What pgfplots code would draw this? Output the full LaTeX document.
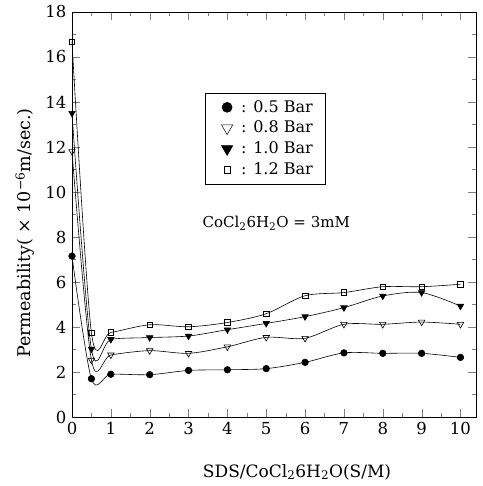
\documentclass[border=0pt]{standalone}
\usepackage{fontspec}
\setmainfont{DejaVu Serif}
\usepackage{pgfplots}
\pgfplotsset{compat=1.18}
\begin{document}
\fontsize{16}{19}\selectfont
\begin{tikzpicture}
\begin{axis}[
 scale only axis, width=404pt, height=405pt,
 xmin=0, xmax=10.4, ymin=0, ymax=18,
 xtick={0,...,10}, ytick={0,2,...,18},
 minor x tick num=1, minor y tick num=1,
 tick align=inside, major tick length=8pt, minor tick length=4pt,
 /pgf/number format/assume math mode=true,
 tick label style={font=\fontsize{16.5}{19}\selectfont},
 label style={font=\fontsize{17}{20}\selectfont},
 xlabel={SDS/CoCl\textsubscript{2}6H\textsubscript{2}O(S/M)},
 ylabel={Permeability( × 10\textsuperscript{−6}m/sec.)},
 xlabel style={at={(axis description cs:0.557,-0.136)},anchor=center},
 ylabel style={at={(axis description cs:-0.116,0.454)},anchor=center, font=\fontsize{17.5}{20}\selectfont},
 legend style={at={(0.329,0.80)}, anchor=north west, draw=black, font=\fontsize{16}{19}\selectfont, inner xsep=10pt, inner ysep=5pt, row sep=2.5pt},
 legend cell align=left,
 legend image code/.code={\path[draw=none,fill=none] (0pt,0pt) -- (24pt,0pt); \draw[#1, only marks] plot coordinates {(12pt,0pt)};},
 clip=false,
 every axis plot/.append style={black, line width=0.6pt, smooth, tension=0.5},
]
\addplot[forget plot, mark=*, mark size=3.3pt, mark options={solid}] coordinates {(0,7.15)(0.5,1.70)(1,1.90)(2,1.88)(3,2.07)(4,2.1)(5,2.15)(6,2.43)(7,2.85)(8,2.83)(9,2.83)(10,2.65)};
\addplot[forget plot, mark=triangle, mark size=3.7pt, mark options={solid, rotate=180, fill=white}] coordinates {(0,11.8)(0.5,2.53)(1,2.76)(2,2.95)(3,2.83)(4,3.12)(5,3.54)(6,3.5)(7,4.12)(8,4.12)(9,4.22)(10,4.12)};
\addplot[forget plot, mark=triangle*, mark size=3.7pt, mark options={solid, rotate=180}] coordinates {(0,13.5)(0.5,3.02)(1,3.45)(2,3.53)(3,3.6)(4,3.88)(5,4.16)(6,4.46)(7,4.86)(8,5.38)(9,5.53)(10,4.93)};
\addplot[forget plot, mark=square, mark size=2.8pt, mark options={solid, fill=white}] coordinates {(0,16.68)(0.5,3.75)(1,3.76)(2,4.1)(3,4.01)(4,4.2)(5,4.59)(6,5.39)(7,5.53)(8,5.79)(9,5.79)(10,5.9)};
\addlegendimage{black, mark=*, mark size=5pt}
\addlegendentry{: 0.5 Bar}
\addlegendimage{black, mark=triangle, mark size=6.5pt, mark options={rotate=180}, line width=0.5pt}
\addlegendentry{: 0.8 Bar}
\addlegendimage{black, mark=triangle*, mark size=6.5pt, mark options={rotate=180}}
\addlegendentry{: 1.0 Bar}
\addlegendimage{black, mark=square, mark size=3.2pt, line width=0.5pt}
\addlegendentry{: 1.2 Bar}
\node[anchor=west, font=\fontsize{15}{18}\selectfont] at (axis cs:3.22,8.6) {CoCl\textsubscript{2}6H\textsubscript{2}O = 3mM};
\path (rel axis cs:0,0) ++(-72pt,-69pt) rectangle ++(482pt,486pt);
\end{axis}
\end{tikzpicture}
\end{document}
